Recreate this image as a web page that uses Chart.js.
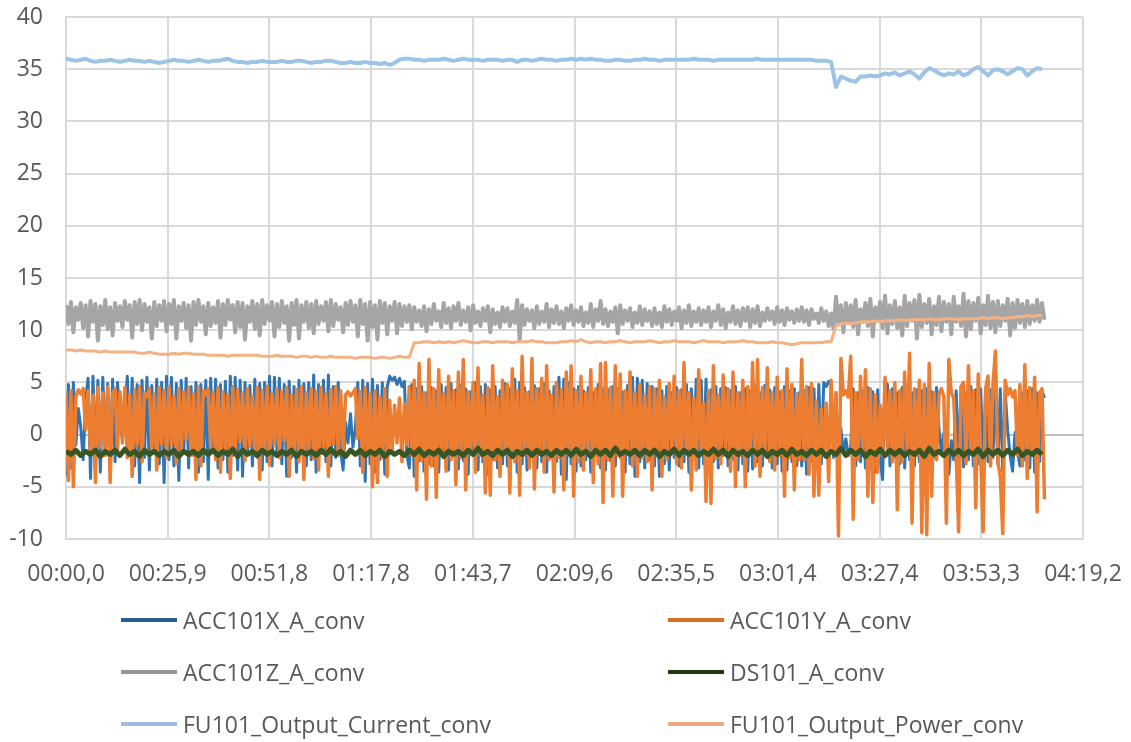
<!DOCTYPE html>
<html>
<head>
<meta charset="utf-8">
<script src="https://cdn.jsdelivr.net/npm/chart.js@4.4.1/dist/chart.umd.min.js"></script>
<style>
  html, body { margin: 0; padding: 0; background: #fff; }
  #wrap { position: relative; width: 1131px; height: 742px; }
  #legend .item {
    position: absolute;
    display: flex;
    align-items: center;
    height: 30px;
    font: 23px "Open Sans", sans-serif;
    color: #595959;
    white-space: nowrap;
  }
  #legend .swatch { width: 56px; height: 4px; margin-right: 6px; }
</style>
</head>
<body>
<div id="wrap">
  <canvas id="chart" width="1131" height="742"></canvas>
  <div id="legend"></div>
</div>
<script>
// accelerometer channels are logged twice as often as the drive values
const ACC_STEP = 0.625;
const SLOW_STEP = 1.25;

const xTickSeconds = [0, 25.92, 51.84, 77.76, 103.68, 129.6, 155.52, 181.44, 207.36, 233.28, 259.2];
const xTickLabels = ["00:00,0", "00:25,9", "00:51,8", "01:17,8", "01:43,7", "02:09,6",
  "02:35,5", "03:01,4", "03:27,4", "03:53,3", "04:19,2"];

const seriesNames = ["ACC101X_A_conv", "ACC101Y_A_conv", "ACC101Z_A_conv",
  "DS101_A_conv", "FU101_Output_Current_conv", "FU101_Output_Power_conv"];

const accX = [
  -4.0, 4.8, -3.2, 5.0, -1.0, 2.5, 0.8, -2.4, 3.2, 5.4, -4.2, 5.6, -2.0, 5.2, -3.6, 5.5, -1.5, 4.9, -3.0, 5.3,
  -2.6, 5.0, 1.5, -0.5, 2.2, 5.6, -1.0, 5.4, -3.0, 4.8, -4.6, 5.2, -2.2, 5.5, -3.4, 4.7, -1.6, 5.3, -2.8, 5.0,
  -4.6, 5.6, -2.4, 5.5, -3.0, 4.9, -4.4, 5.2, -1.8, 5.4, -3.2, 4.6, -2.0, 5.0, -3.6, 4.8, -2.6, 5.2, -4.3, 5.4,
  -1.5, 5.3, -3.2, 4.8, -2.4, 5.1, -3.6, 5.6, -2.0, 5.5, -3.4, 5.2, -4.0, 5.0, -1.8, 4.7, -3.0, 5.3, -2.2, 4.9,
  -3.4, 5.0, -2.6, 5.6, -3.0, 5.5, -1.6, 5.4, -2.8, 4.8, -4.0, 5.1, -2.2, 4.6, -3.6, 5.2, -1.4, 4.9, -3.0, 5.0,
  -2.4, 5.7, -3.6, 4.8, -1.8, 5.2, -2.6, 5.7, -3.0, 4.6, -2.2, 5.0, -1.6, -3.4, 1.2, -0.8, 2.0, -1.2, 0.6, 5.0,
  -3.0, 5.2, -4.5, 4.9, -2.8, 5.3, -3.6, 4.7, -2.4, 5.0, -3.8, 4.6, 5.6, 5.2, 5.5, 4.8, 5.4, 4.6, 5.1, -2.0,
  -3.2, 4.8, -4.0, 4.4, -2.5, 4.6, -3.5, 4.0, -2.8, 4.5, -3.0, 4.2, -3.6, 4.8, -2.2, 4.5, -3.4, 4.9, -1.8, 4.3,
  -3.3, 4.7, -2.5, 4.4, -3.8, 4.1, -2.0, 5.0, -3.4, 4.6, -2.6, 4.8, -3.8, 4.3, -2.4, 4.6, -3.2, 4.2, -2.8, 4.9,
  -3.0, 4.4, -2.2, 5.3, -3.6, 5.0, -2.8, 4.5, -3.4, 4.1, -2.0, 4.7, -3.2, 4.4, -2.6, 4.9, -3.6, 4.2, -2.2, 4.6,
  -2.6, 5.5, -3.8, 5.3, -4.3, 5.0, -2.8, 4.4, -3.5, 4.6, -3.0, 4.2, -2.4, 4.5, -3.6, 4.0, -2.0, 4.8, -3.2, 4.4,
  -3.4, 4.3, -2.5, 4.6, -3.0, 4.4, -2.2, 4.1, -3.6, 4.7, -2.8, 5.5, -4.0, 5.4, -2.6, 5.2, -3.2, 4.9, -2.4, 4.6,
  -3.0, 4.4, -4.0, 4.2, -2.8, 4.6, -3.4, 4.0, -2.2, 4.5, -3.0, 4.3, -2.6, 4.8, -3.6, 4.4, -2.0, 5.3, -3.2, 5.2,
  -2.8, 5.3, -3.4, 4.3, -2.6, 4.6, -3.2, 4.4, -2.0, 4.5, -3.0, 4.2, -2.4, 4.6, -3.4, 4.0, -2.8, 4.4, -3.5, 4.2,
  -3.3, 4.6, -2.6, 4.0, -3.0, 4.7, -2.2, 4.3, -3.2, 4.5, -2.8, 4.1, -3.5, 4.6, -3.4, 4.2, -2.6, 4.4, -3.0, 4.0,
  -3.0, 4.2, -3.8, 4.5, -2.6, 4.4, -3.2, 4.8, -2.8, 5.0, 4.6, 5.1, 4.7, -2.2, 4.0, -3.0, 0.6, -1.8, -0.4, -2.0,
  -1.2, 4.4, -3.0, 4.0, -2.6, 4.2, -3.2, 4.5, -2.8, 4.1, -3.6, 4.3, -2.4, -4.3, 5.0, 4.8, -3.0, 4.4, -2.2, 4.0,
  -2.8, 4.5, -3.2, 4.6, -2.4, 4.0, -3.0, 4.3, -2.6, 4.2, -3.8, 4.4, -3.0, 4.1, -2.2, 4.5, 0.6, -1.8, 0.2, -3.0,
  -3.8, -0.6, -2.4, 4.2, -2.6, 4.5, -3.1, 4.0, -2.4, 4.6, -3.0, 4.3, -2.8, 4.4, -3.2, 4.0, -2.6, 4.3, -2.2, 4.5,
  -2.8, 4.4, -3.5, 4.1, 0.4, -2.0, -3.5, 0.2, -1.6, -3.0, 4.0, -2.4, 4.2, -3.2, 4.4, -3.6, 4.0, -2.6, 4.2, 3.5
];

const accY = [
  4.0, -4.4, 4.2, -5.0, 3.6, 4.3, 3.9, 4.4, 0.5, 4.2, -1.8, 3.8, -4.6, 4.5, -1.2, 4.0, -2.0, 4.6, -4.6, 3.9,
  4.4, -1.5, 4.1, -0.8, 4.5, -2.2, 3.8, -4.0, 4.3, -1.0, 4.6, -2.6, 4.0, 3.6, 4.4, -1.4, 3.9, -3.4, 4.5, -0.9,
  4.2, -2.2, 4.6, -1.0, 3.7, -2.8, 4.4, -1.6, 4.1, -0.5, 4.5, -2.0, 3.9, -4.3, 4.6, -3.0, 4.2, 3.8, 4.4, -1.2,
  4.0, -2.4, 4.5, -3.6, 4.1, -1.3, 3.8, -4.2, 4.6, -1.8, 4.3, -0.7, 4.0, -2.5, 4.4, -1.1, 3.7, -2.0, 4.5, -4.3,
  4.2, -1.6, 4.6, -2.9, 3.9, -1.0, 4.4, -2.2, 4.1, -0.6, 4.5, -4.0, 3.8, -1.9, 4.3, -2.6, 4.6, -4.3, 4.0, -1.4,
  4.4, -2.3, 4.1, -3.4, 4.5, -1.2, 3.9, -4.0, 4.3, -0.9, 4.6, -2.0, 4.2, -1.5, 3.8, 4.1, 3.7, 4.0, 4.4, -0.4,
  4.1, -3.6, 4.5, -1.8, 3.9, -5.0, 4.2, -4.6, 3.6, -2.2, 4.4, -4.0, 3.3, -1.5, 2.8, -0.8, 3.5, -2.6, 3.0, -1.0,
  4.6, -2.0, 5.2, -5.3, 6.8, -2.5, 4.0, -6.2, 7.2, -3.0, 4.4, -6.0, 6.2, -1.8, 3.9, -3.5, 5.6, -2.4, 4.2, -4.8,
  6.0, -2.2, 7.2, -5.3, 4.1, -1.9, 5.0, -3.6, 6.4, -2.0, 3.8, -5.6, 4.5, -5.8, 6.6, -2.4, 3.6, -4.0, 5.2, -1.6,
  4.8, -5.6, 6.3, -2.6, 4.2, -5.8, 7.5, -2.0, 4.0, -3.2, 7.3, -5.2, 4.4, -1.8, 5.4, -3.6, 6.6, -2.4, 3.8, -5.5,
  5.0, -2.2, 4.3, -5.3, 6.0, -1.9, 6.6, -5.9, 4.2, -2.6, 5.6, -3.4, 4.0, -1.6, 6.2, -4.6, 4.4, -2.8, 6.8, -6.5,
  6.9, -2.4, 4.5, -5.9, 6.6, -2.0, 5.8, -5.9, 4.2, -1.6, 6.0, -3.0, 4.0, -4.0, 4.8, -2.2, 3.8, -2.6, 4.6, -5.3,
  4.4, -1.8, 5.2, -4.0, 3.6, -2.4, 4.9, -1.5, 5.6, -2.8, 4.2, -3.2, 6.9, -1.7, 4.0, -5.3, 3.5, -3.4, 6.2, -1.2,
  3.0, -6.4, 4.2, -6.6, 6.6, -2.3, 3.8, -2.8, 5.7, -1.4, 4.4, -3.5, 6.0, -5.0, 4.0, -2.0, 5.2, -5.0, 4.6, -1.9,
  6.9, -3.0, 7.2, -4.0, 4.5, -1.8, 6.4, -2.6, 4.0, -3.4, 5.5, -2.0, 4.2, -5.9, 6.3, -2.2, 4.8, -5.3, 3.9, -2.4,
  7.2, -2.5, 4.6, -3.8, 4.9, -5.9, 3.2, -5.8, 2.5, -2.0, 3.0, -4.5, 5.2, -1.6, 4.0, -9.7, 7.3, 3.8, 4.2, 3.6,
  7.5, -8.1, 4.0, -2.4, 5.6, -1.5, 6.2, -5.9, 4.4, -6.5, 3.8, -3.6, 2.8, -2.0, 5.5, -1.8, 4.2, -2.6, 5.0, -7.2,
  4.2, -2.6, 6.0, -1.4, 7.8, -8.5, 4.4, -2.0, 5.2, -9.4, 4.8, -9.6, 6.8, -5.9, 4.0, -2.4, 3.9, 4.4, 3.6, -8.5,
  7.2, 4.0, 3.5, -2.0, -9.3, 4.6, 5.0, -2.8, 6.6, -1.6, 4.2, -7.0, 5.8, -2.2, -9.3, 4.4, 5.6, -3.0, 4.8, 8.0,
  -2.6, -4.0, -9.5, 5.2, 3.8, 4.4, 3.6, 4.2, -2.0, 4.8, -3.0, 6.7, -4.2, 4.5, -1.8, 5.5, -7.4, 4.0, 4.4, -6.2
];

const accZ = [
  12.4, 10.6, 12.7, 9.8, 12.2, 11.0, 12.6, 10.2, 12.4, 9.4, 12.8, 10.8, 12.5, 9.0, 12.3, 10.5, 12.9, 10.1, 12.2, 9.5,
  12.6, 10.9, 12.3, 10.3, 12.8, 11.0, 12.4, 9.3, 12.7, 10.6, 12.9, 10.0, 12.5, 10.8, 12.2, 9.2, 12.7, 10.4, 12.4, 10.9,
  12.8, 9.9, 12.5, 10.6, 12.9, 9.2, 12.3, 10.9, 12.6, 10.2, 12.4, 9.0, 12.7, 10.5, 12.9, 10.8, 12.3, 9.6, 12.6, 10.4,
  12.2, 10.7, 12.8, 9.3, 12.5, 10.5, 12.9, 11.0, 12.4, 9.8, 12.7, 10.3, 12.6, 9.1, 12.3, 10.8, 12.8, 10.1, 12.5, 9.5,
  12.9, 10.6, 12.4, 10.9, 12.7, 9.4, 12.5, 10.3, 12.8, 10.7, 12.3, 9.0, 12.6, 10.5, 12.9, 9.2, 12.4, 10.8, 12.7, 10.2,
  12.5, 9.7, 12.8, 10.6, 12.3, 10.9, 12.7, 9.9, 12.9, 10.4, 12.5, 11.0, 12.2, 9.8, 12.6, 10.5, 12.8, 10.8, 12.4, 9.4,
  12.9, 10.6, 12.5, 9.0, 12.7, 10.3, 12.4, 9.1, 12.8, 10.7, 12.6, 9.6, 12.3, 10.9, 12.7, 9.7, 12.5, 10.4, 12.3, 10.8,
  12.4, 10.1, 12.2, 10.8, 11.9, 10.4, 12.3, 9.9, 12.0, 10.6, 12.5, 10.9, 11.8, 10.3, 12.6, 10.7, 12.1, 10.2, 12.3, 10.9,
  12.6, 10.5, 11.9, 10.8, 12.2, 10.0, 12.4, 10.7, 11.8, 10.4, 12.1, 10.9, 12.3, 9.8, 12.0, 10.6, 11.7, 10.3, 12.2, 10.8,
  12.1, 10.4, 11.8, 10.7, 12.9, 9.1, 12.4, 10.5, 12.0, 10.9, 11.9, 10.2, 12.3, 10.6, 11.8, 10.8, 12.5, 10.3, 12.0, 10.7,
  12.3, 10.6, 11.8, 10.2, 12.1, 10.9, 12.4, 10.5, 11.9, 10.8, 12.2, 10.4, 11.7, 10.7, 12.5, 10.3, 12.0, 10.9, 12.8, 10.6,
  12.0, 10.4, 11.8, 10.8, 12.2, 9.7, 12.4, 10.6, 11.9, 10.9, 12.1, 10.3, 11.7, 10.7, 12.3, 10.5, 12.0, 10.9, 11.8, 10.4,
  12.1, 10.6, 11.7, 10.3, 12.3, 10.8, 12.0, 10.5, 11.8, 10.9, 12.2, 10.2, 11.9, 10.7, 12.4, 10.4, 11.8, 10.8, 12.1, 10.5,
  11.9, 10.8, 12.2, 10.3, 11.8, 10.9, 12.4, 10.5, 12.0, 10.2, 11.7, 10.8, 12.3, 10.6, 11.9, 10.4, 12.1, 10.9, 12.2, 10.3,
  12.0, 10.7, 12.3, 10.4, 11.7, 10.9, 12.1, 11.0, 11.8, 10.6, 12.2, 10.8, 11.9, 10.5, 12.1, 11.0, 11.8, 10.7, 12.0, 10.9,
  12.2, 10.8, 11.9, 10.5, 12.0, 11.1, 11.6, 10.7, 12.1, 10.9, 11.8, 10.4, 11.6, 10.1, 13.2, 10.6, 12.4, 9.8, 12.6, 10.7,
  12.4, 10.3, 12.9, 9.6, 12.0, 10.8, 12.6, 10.4, 13.0, 9.4, 12.2, 10.9, 12.7, 10.2, 13.3, 9.7, 12.4, 10.6, 12.8, 10.2,
  12.2, 9.5, 13.3, 10.4, 12.6, 10.9, 12.9, 9.2, 13.4, 10.3, 12.5, 10.7, 13.0, 9.6, 12.3, 10.5, 13.2, 9.9, 12.7, 10.8,
  12.5, 9.6, 13.2, 10.8, 12.3, 10.4, 13.5, 9.4, 12.8, 10.1, 12.6, 10.9, 13.1, 9.7, 12.4, 10.5, 13.3, 10.2, 12.7, 9.8,
  12.8, 10.4, 12.4, 10.9, 13.0, 9.5, 12.6, 10.2, 12.9, 10.7, 12.5, 10.3, 12.8, 10.6, 12.4, 10.9, 12.9, 10.8, 12.6, 11.0
];

const ds101 = [
  -1.6, -1.9, -1.5, -2.0, -1.6, -1.9, -1.5, -2.1, -1.6, -1.9,
  -1.5, -2.0, -1.4, -1.9, -1.6, -2.1, -1.5, -1.9, -1.6, -2.0,
  -1.6, -1.9, -1.5, -2.1, -1.6, -1.9, -1.6, -2.0, -1.5, -1.9,
  -1.5, -2.0, -1.6, -1.9, -1.4, -2.1, -1.5, -1.9, -1.6, -2.0,
  -1.5, -1.9, -1.6, -2.0, -1.6, -1.9, -1.5, -2.1, -1.6, -1.9,
  -1.6, -2.0, -1.5, -1.9, -1.4, -1.9, -1.6, -2.1, -1.5, -1.9,
  -1.5, -2.0, -1.6, -1.9, -1.5, -2.1, -1.6, -1.9, -1.6, -2.0,
  -1.5, -1.9, -1.4, -2.0, -1.6, -1.9, -1.5, -2.1, -1.6, -1.9,
  -1.6, -2.0, -1.5, -1.9, -1.3, -1.9, -1.6, -2.0, -1.5, -1.9,
  -1.5, -2.1, -1.6, -1.9, -1.5, -2.0, -1.5, -1.9, -1.6, -2.0,
  -1.5, -1.9, -1.5, -2.0, -1.4, -1.9, -1.6, -2.1, -1.5, -1.9,
  -1.5, -2.0, -1.3, -1.9, -1.6, -1.9, -1.5, -2.0, -1.5, -1.9,
  -1.5, -2.1, -1.6, -1.9, -1.4, -2.0, -1.5, -1.9, -1.5, -2.0,
  -1.6, -1.9, -1.4, -1.9, -1.5, -2.1, -1.5, -1.9, -1.6, -2.0,
  -1.5, -1.9, -1.5, -2.1, -1.6, -1.9, -1.5, -2.0, -1.4, -1.9,
  -1.6, -2.0, -1.5, -1.9, -1.5, -2.1, -1.6, -1.9, -1.3, -2.0,
  -1.5, -1.9, -1.5, -2.1, -1.6, -1.9, -1.4, -2.0, -1.5, -1.9,
  -1.5, -2.0, -1.6, -1.9, -1.5, -2.1, -1.3, -1.9, -1.6, -2.0,
  -1.5, -1.9, -1.5, -2.0, -1.6, -1.9, -1.4, -2.1, -1.5, -1.9,
  -1.5, -2.0, -1.5, -1.9, -1.4, -2.0, -1.6, -1.9, -1.5, -1.9
];

const outputCurrent = [
  36.0, 35.9, 35.8, 35.9, 36.0, 35.8, 35.7, 35.8, 35.8, 35.9,
  35.8, 35.7, 35.8, 35.9, 35.8, 35.8, 35.7, 35.8, 35.7, 35.6,
  35.7, 35.8, 35.9, 35.8, 35.8, 35.7, 35.8, 35.9, 35.8, 35.7,
  35.8, 35.8, 35.9, 36.0, 35.8, 35.7, 35.7, 35.6, 35.7, 35.7,
  35.8, 35.7, 35.7, 35.7, 35.8, 35.7, 35.7, 35.8, 35.8, 35.7,
  35.6, 35.7, 35.7, 35.8, 35.8, 35.7, 35.6, 35.6, 35.7, 35.6,
  35.6, 35.7, 35.6, 35.6, 35.5, 35.6, 35.4, 35.6, 35.9, 36.0,
  36.0, 35.9, 35.9, 35.8, 35.9, 35.9, 35.9, 36.0, 35.9, 35.8,
  35.9, 36.0, 35.9, 35.9, 35.9, 35.8, 35.9, 35.9, 35.9, 35.8,
  35.9, 35.9, 35.7, 35.9, 35.9, 35.8, 35.9, 36.0, 35.9, 35.9,
  35.8, 35.9, 35.9, 36.0, 35.9, 36.0, 35.9, 36.0, 35.9, 35.9,
  35.8, 35.8, 35.9, 35.9, 35.8, 35.8, 35.9, 35.9, 36.0, 35.9,
  35.9, 35.8, 35.9, 35.9, 35.9, 35.9, 35.9, 35.9, 36.0, 35.9,
  35.9, 35.9, 35.8, 35.9, 35.9, 35.9, 35.9, 35.9, 35.9, 35.9,
  35.9, 36.0, 35.9, 35.9, 35.9, 35.9, 35.9, 35.9, 35.9, 35.9,
  35.9, 35.9, 35.9, 35.8, 35.8, 35.8, 35.7, 33.3, 34.3, 34.1,
  33.9, 33.8, 34.3, 34.3, 34.4, 34.3, 34.4, 34.6, 34.5, 34.7,
  34.4, 34.6, 34.8, 34.5, 34.1, 34.7, 35.1, 34.9, 34.6, 34.4,
  34.6, 34.5, 34.8, 34.4, 34.6, 35.0, 35.2, 34.8, 34.4, 34.9,
  35.0, 34.8, 34.5, 34.8, 35.1, 35.0, 34.4, 34.8, 35.1, 35.0
];

const outputPower = [
  8.1, 8.1, 8.0, 8.1, 8.0, 8.0, 8.0, 7.9, 8.0, 7.9,
  7.9, 7.9, 7.9, 7.9, 7.9, 7.8, 7.8, 7.9, 7.8, 7.7,
  7.7, 7.7, 7.8, 7.7, 7.8, 7.8, 7.7, 7.7, 7.7, 7.6,
  7.6, 7.6, 7.6, 7.5, 7.6, 7.6, 7.6, 7.6, 7.6, 7.6,
  7.5, 7.5, 7.5, 7.6, 7.5, 7.5, 7.5, 7.4, 7.5, 7.5,
  7.4, 7.5, 7.4, 7.4, 7.5, 7.4, 7.4, 7.4, 7.4, 7.3,
  7.4, 7.4, 7.4, 7.3, 7.4, 7.4, 7.3, 7.4, 7.5, 7.4,
  7.4, 8.8, 8.8, 8.9, 8.9, 8.8, 8.9, 8.8, 8.9, 8.8,
  8.9, 9.0, 8.9, 8.8, 8.8, 8.9, 8.9, 8.8, 8.9, 8.9,
  8.9, 8.8, 8.9, 8.9, 8.9, 9.0, 8.9, 8.9, 8.8, 8.8,
  8.8, 8.9, 8.9, 9.0, 8.9, 9.1, 8.9, 8.8, 8.9, 8.9,
  8.8, 8.9, 8.9, 9.0, 8.9, 8.8, 8.9, 8.9, 8.9, 9.0,
  8.9, 8.8, 8.9, 8.9, 9.0, 8.9, 8.9, 8.9, 8.8, 8.9,
  9.0, 8.9, 8.9, 8.9, 8.8, 8.9, 8.9, 8.9, 9.0, 8.9,
  8.9, 8.8, 8.8, 8.8, 8.9, 8.8, 8.8, 8.7, 8.6, 8.7,
  8.8, 8.8, 8.8, 8.8, 8.8, 8.9, 8.9, 10.4, 10.6, 10.7,
  10.6, 10.7, 10.8, 10.8, 10.8, 10.9, 10.8, 10.9, 10.9, 10.9,
  11.0, 10.9, 11.0, 11.0, 11.0, 11.0, 11.1, 11.0, 11.0, 11.1,
  11.1, 11.1, 11.0, 11.1, 11.1, 11.1, 11.1, 11.2, 11.1, 11.2,
  11.2, 11.1, 11.2, 11.2, 11.3, 11.3, 11.4, 11.3, 11.4, 11.4
];

const seriesValues = [accX, accY, accZ, ds101, outputCurrent, outputPower];
const seriesSteps = [ACC_STEP, ACC_STEP, ACC_STEP, SLOW_STEP, SLOW_STEP, SLOW_STEP];
const seriesColors = ["#2e75b6", "#ed7d31", "#a5a5a5", "#375623", "#9dc3e6", "#f4b183"];
const legendColors = ["#255e91", "#d8702a", "#969696", "#203a14", "#9dbde0", "#eea97e"];
const lineWidths = [3, 3.5, 4, 5, 4, 3];

function toPoints(values, step) {
  return values.map((y, i) => ({ x: i * step, y }));
}

function buildDatasets() {
  return seriesNames.map((name, i) => ({
    label: name,
    data: toPoints(seriesValues[i], seriesSteps[i]),
    borderColor: seriesColors[i],
    backgroundColor: seriesColors[i],
    borderWidth: lineWidths[i],
    borderJoinStyle: "round",
    pointRadius: 0,
    tension: 0,
    fill: false,
    // Excel draws later series on top
    order: seriesNames.length - i,
  }));
}

function buildLegend() {
  const legend = document.getElementById("legend");
  const columns = [121, 668];
  const rows = [620, 672, 724];

  seriesNames.forEach((name, i) => {
    const item = document.createElement("div");
    item.className = "item";
    item.style.left = `${columns[i % 2]}px`;
    item.style.top = `${rows[Math.floor(i / 2)] - 15}px`;

    const swatch = document.createElement("span");
    swatch.className = "swatch";
    swatch.style.background = legendColors[i];

    const text = document.createElement("span");
    text.textContent = name;

    item.append(swatch, text);
    legend.appendChild(item);
  });
}

Chart.defaults.font.family = "'Open Sans', sans-serif";
Chart.defaults.font.size = 23;
Chart.defaults.color = "#595959";

new Chart(document.getElementById("chart"), {
  type: "line",
  data: { datasets: buildDatasets() },
  options: {
    responsive: false,
    animation: false,
    devicePixelRatio: 1,
    layout: {
      padding: { top: 17, right: 48, bottom: 0, left: 0 },
    },
    plugins: {
      legend: { display: false },
      tooltip: { enabled: false },
    },
    scales: {
      x: {
        type: "linear",
        min: 0,
        max: 259.2,
        afterBuildTicks(axis) {
          axis.ticks = xTickSeconds.map((value) => ({ value }));
        },
        afterFit(scale) {
          scale.height = 203;
          scale.paddingLeft = 0;
          scale.paddingRight = 0;
        },
        grid: {
          color: "#d9d9d9",
          lineWidth: 2,
          drawTicks: false,
        },
        border: { color: "#d9d9d9", width: 2 },
        ticks: {
          padding: 22,
          maxRotation: 0,
          autoSkip: false,
          callback(value, index) {
            return xTickLabels[index];
          },
        },
      },
      y: {
        min: -10,
        max: 40,
        afterFit(scale) {
          scale.width = 66;
          scale.paddingTop = 0;
          scale.paddingBottom = 0;
        },
        grid: {
          color(context) {
            return context.tick && context.tick.value === 0 ? "#bfbfbf" : "#d9d9d9";
          },
          lineWidth: 2,
          drawTicks: false,
        },
        border: { color: "#d9d9d9", width: 2 },
        ticks: {
          stepSize: 5,
          padding: 23,
        },
      },
    },
  },
});

buildLegend();
</script>
</body>
</html>
